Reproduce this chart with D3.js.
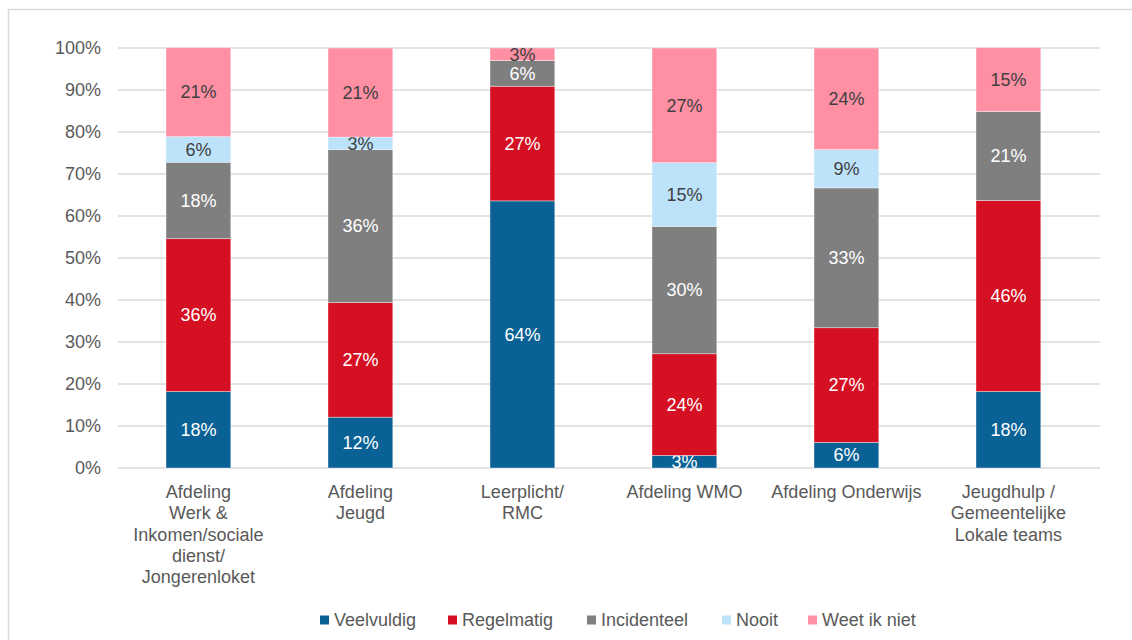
<!DOCTYPE html>
<html lang="en">
<head>
    <script src='https://d3js.org/d3.v7.min.js'></script>
    <style>
        body { margin: 0; background: #fff; }
        text { font-family: "Liberation Sans", Arial, sans-serif; }
    </style>
</head>
<body>
</body>
<script>

    // categories (x axis, multi-line labels)
    const categories = [
        ["Afdeling", "Werk &", "Inkomen/sociale", "dienst/", "Jongerenloket"],
        ["Afdeling", "Jeugd"],
        ["Leerplicht/", "RMC"],
        ["Afdeling WMO"],
        ["Afdeling Onderwijs"],
        ["Jeugdhulp /", "Gemeentelijke", "Lokale teams"]
    ];

    const seriesNames = ["Veelvuldig", "Regelmatig", "Incidenteel", "Nooit", "Weet ik niet"];
    const seriesColors = ["#0a6195", "#d51022", "#7f7f7f", "#bde3fb", "#ff8fa3"];
    const labelColors = ["#ffffff", "#ffffff", "#ffffff", "#404040", "#404040"];

    // percentages per series
    const veelvuldig  = [18.2, 12.1, 63.6, 3.0, 6.1, 18.2];
    const regelmatig  = [36.4, 27.3, 27.3, 24.2, 27.3, 45.5];
    const incidenteel = [18.2, 36.4, 6.1, 30.3, 33.3, 21.2];
    const nooit       = [6.1, 3.0, 0, 15.2, 9.1, 0];
    const weetIkNiet  = [21.2, 21.2, 3.0, 27.3, 24.2, 15.2];

    const yTicks = [0, 10, 20, 30, 40, 50, 60, 70, 80, 90, 100];

    const width = 1132, height = 640;
    const plotLeft = 118, plotRight = 1100;
    const plotTop = 48, plotBottom = 468;

    const svg = d3.select("body").append("svg")
        .attr("width", width)
        .attr("height", height);

    // outer border
    svg.append("rect")
        .attr("x", 8.5).attr("y", 9.5)
        .attr("width", width + 20).attr("height", height + 20)
        .attr("fill", "none")
        .attr("stroke", "#d9d9d9")
        .attr("stroke-width", 1.5);

    const x = d3.scaleBand()
        .domain(d3.range(categories.length))
        .range([117.4, 1089.4])
        .paddingInner(0.6)
        .paddingOuter(0.3);

    const y = d3.scaleLinear()
        .domain([0, 100])
        .range([plotBottom, plotTop]);

    // gridlines
    svg.append("g")
        .selectAll("line")
        .data(yTicks)
        .enter()
        .append("line")
        .attr("x1", plotLeft)
        .attr("x2", plotRight)
        .attr("y1", d => y(d))
        .attr("y2", d => y(d))
        .attr("stroke", "#d9d9d9")
        .attr("stroke-width", 1.5);

    // y labels
    svg.append("g")
        .selectAll("text")
        .data(yTicks)
        .enter()
        .append("text")
        .attr("x", 101)
        .attr("y", d => y(d))
        .attr("dy", "0.35em")
        .attr("text-anchor", "end")
        .attr("font-size", 18)
        .attr("fill", "#595959")
        .text(d => d + "%");

    const table = categories.map((c, i) => ({
        i: i,
        "Veelvuldig": veelvuldig[i],
        "Regelmatig": regelmatig[i],
        "Incidenteel": incidenteel[i],
        "Nooit": nooit[i],
        "Weet ik niet": weetIkNiet[i]
    }));

    const stacked = d3.stack().keys(seriesNames)(table);

    const layers = svg.append("g")
        .selectAll("g")
        .data(stacked)
        .enter()
        .append("g");

    layers.selectAll("rect")
        .data((s, k) => s.map(d => ({ d: d, k: k })))
        .enter()
        .append("rect")
        .attr("x", p => x(p.d.data.i))
        .attr("width", x.bandwidth())
        .attr("y", p => y(p.d[1]))
        .attr("height", p => y(p.d[0]) - y(p.d[1]))
        .attr("fill", p => seriesColors[p.k])
        .attr("stroke", "#ffffff")
        .attr("stroke-opacity", 0.5)
        .attr("stroke-width", 0.75);

    layers.selectAll("text")
        .data((s, k) => s.map(d => ({ d: d, k: k })).filter(p => p.d[1] - p.d[0] > 0))
        .enter()
        .append("text")
        .attr("x", p => x(p.d.data.i) + x.bandwidth() / 2)
        .attr("y", p => (y(p.d[0]) + y(p.d[1])) / 2)
        .attr("dy", "0.35em")
        .attr("text-anchor", "middle")
        .attr("font-size", 18)
        .attr("fill", p => labelColors[p.k])
        .text(p => Math.round(p.d[1] - p.d[0]) + "%");

    // category labels
    const catG = svg.append("g")
        .selectAll("text")
        .data(categories)
        .enter()
        .append("text")
        .attr("x", (d, i) => x(i) + x.bandwidth() / 2)
        .attr("y", 498)
        .attr("text-anchor", "middle")
        .attr("font-size", 18)
        .attr("fill", "#595959");

    catG.selectAll("tspan")
        .data(d => d)
        .enter()
        .append("tspan")
        .attr("x", function () { return d3.select(this.parentNode).attr("x"); })
        .attr("dy", (d, j) => j === 0 ? 0 : 21.3)
        .text(d => d);

    // legend
    const legendX = [320, 448, 587, 722, 808];
    const legend = svg.append("g")
        .selectAll("g")
        .data(seriesNames)
        .enter()
        .append("g")
        .attr("transform", (d, i) => "translate(" + legendX[i] + ",620)");

    legend.append("rect")
        .attr("x", 0).attr("y", -4.5)
        .attr("width", 9).attr("height", 9)
        .attr("fill", (d, i) => seriesColors[i]);

    legend.append("text")
        .attr("x", 14)
        .attr("dy", "0.35em")
        .attr("font-size", 18)
        .attr("fill", "#595959")
        .text(d => d);

</script>
</html>
